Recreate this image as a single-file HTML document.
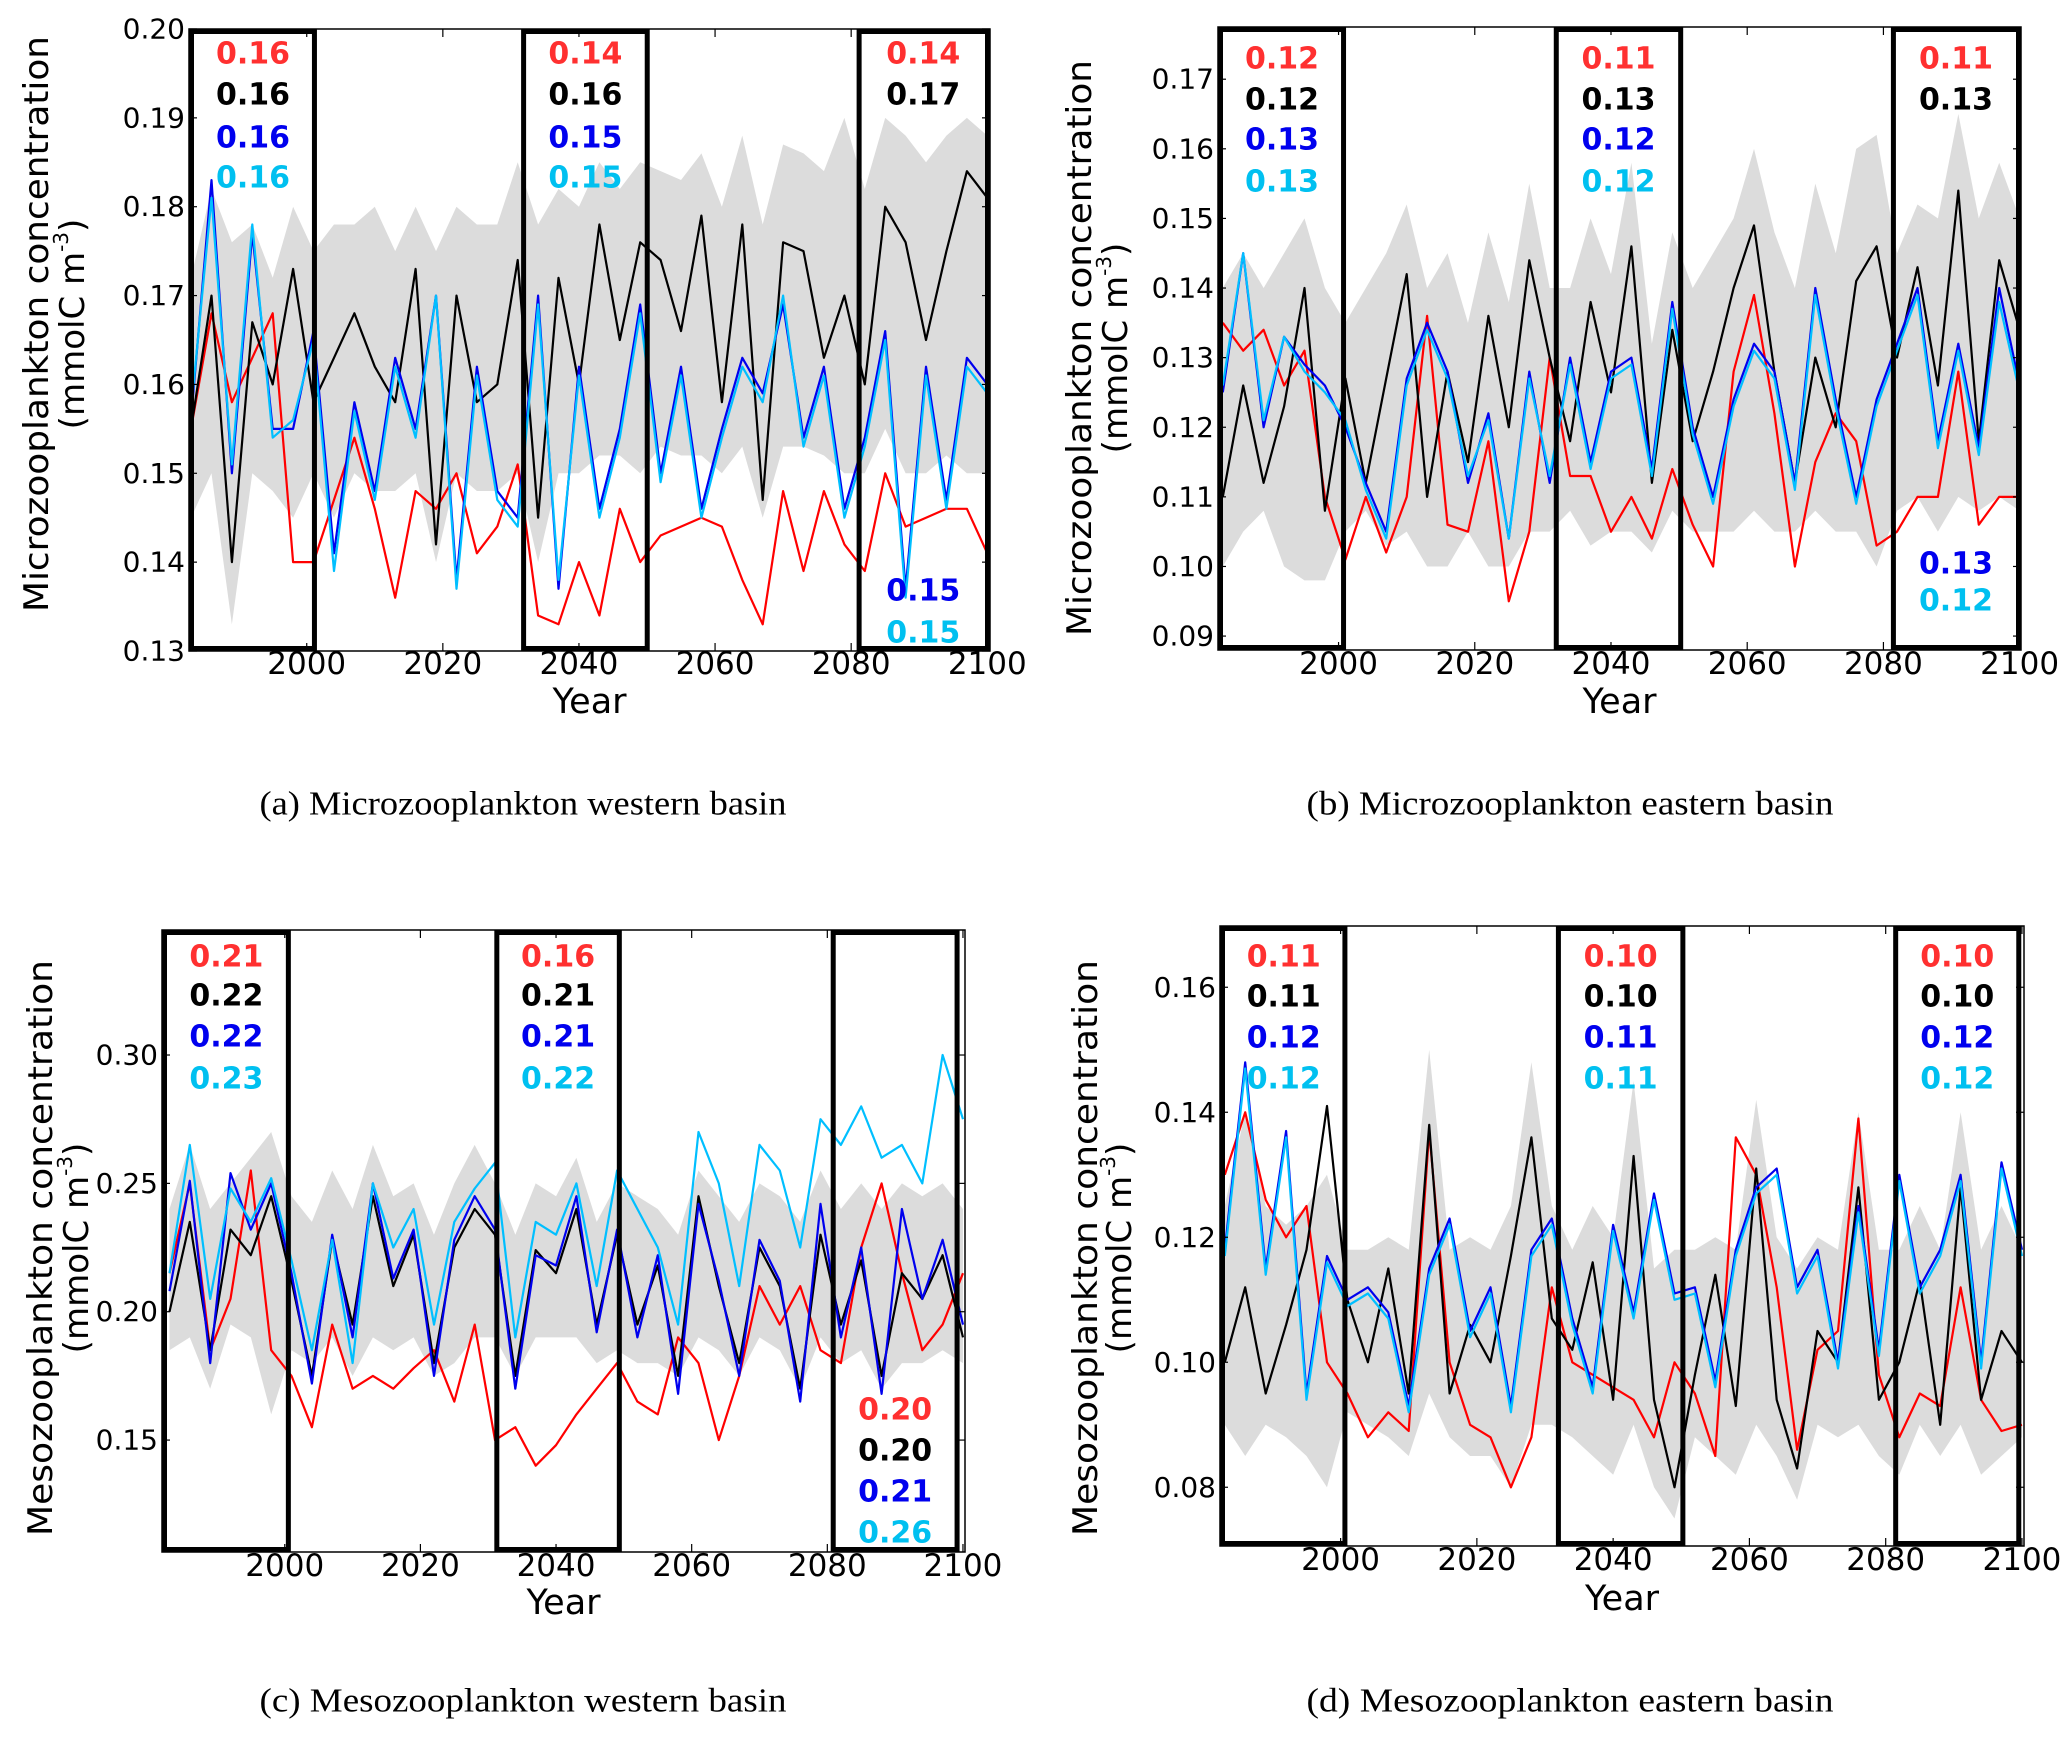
<!DOCTYPE html>
<html><head><meta charset="utf-8"><style>
html,body{margin:0;padding:0;background:#fff}
svg{display:block}
text{font-family:"DejaVu Sans","Liberation Sans",sans-serif}
</style></head><body>
<svg id="fig" width="2067" height="1740" viewBox="0 0 2067 1740" xmlns="http://www.w3.org/2000/svg"></svg>
<script>
// years: 1983..2100 step 3 (40 points)
const years = Array.from({length:40},(_,i)=>1983+3*i);

const redA=[0.155,0.168,0.158,0.163,0.168,0.140,0.140,0.147,0.154,0.146,0.136,0.148,0.146,0.150,0.141,0.144,0.151,0.134,0.133,0.140,0.134,0.146,0.140,0.143,0.144,0.145,0.144,0.138,0.133,0.148,0.139,0.148,0.142,0.139,0.150,0.144,0.145,0.146,0.146,0.141];
const blackA=[0.155,0.170,0.140,0.167,0.160,0.173,0.158,0.163,0.168,0.162,0.158,0.173,0.142,0.170,0.158,0.160,0.174,0.145,0.172,0.160,0.178,0.165,0.176,0.174,0.166,0.179,0.158,0.178,0.147,0.176,0.175,0.163,0.170,0.160,0.180,0.176,0.165,0.175,0.184,0.181];
const blueA=[0.156,0.183,0.150,0.177,0.155,0.155,0.166,0.141,0.158,0.148,0.163,0.155,0.170,0.138,0.162,0.148,0.145,0.170,0.137,0.162,0.146,0.155,0.169,0.150,0.162,0.146,0.155,0.163,0.159,0.169,0.154,0.162,0.146,0.154,0.166,0.137,0.162,0.147,0.163,0.160];
const cyanA=[0.157,0.181,0.151,0.178,0.154,0.156,0.165,0.139,0.157,0.147,0.162,0.154,0.170,0.137,0.161,0.147,0.144,0.169,0.138,0.161,0.145,0.154,0.168,0.149,0.161,0.145,0.154,0.162,0.158,0.170,0.153,0.161,0.145,0.153,0.165,0.136,0.161,0.146,0.162,0.159];
const loA=[0.145,0.150,0.133,0.150,0.148,0.145,0.150,0.145,0.150,0.148,0.148,0.150,0.140,0.150,0.148,0.148,0.150,0.140,0.150,0.150,0.152,0.152,0.150,0.153,0.152,0.152,0.150,0.153,0.145,0.153,0.153,0.152,0.150,0.150,0.155,0.150,0.150,0.152,0.150,0.150];
const hiA=[0.172,0.182,0.176,0.178,0.172,0.180,0.175,0.178,0.178,0.180,0.175,0.180,0.175,0.180,0.178,0.178,0.185,0.178,0.182,0.180,0.185,0.182,0.185,0.184,0.183,0.186,0.180,0.188,0.178,0.187,0.186,0.184,0.190,0.182,0.190,0.188,0.185,0.188,0.190,0.188];

const redB=[0.135,0.131,0.134,0.126,0.131,0.110,0.101,0.110,0.102,0.110,0.136,0.106,0.105,0.118,0.095,0.105,0.130,0.113,0.113,0.105,0.110,0.104,0.114,0.106,0.100,0.128,0.139,0.122,0.100,0.115,0.122,0.118,0.103,0.105,0.110,0.110,0.128,0.106,0.110,0.110];
const blackB=[0.110,0.126,0.112,0.123,0.140,0.108,0.127,0.112,0.127,0.142,0.110,0.128,0.115,0.136,0.120,0.144,0.130,0.118,0.138,0.125,0.146,0.112,0.134,0.118,0.128,0.140,0.149,0.128,0.112,0.130,0.120,0.141,0.146,0.130,0.143,0.126,0.154,0.118,0.144,0.134];
const blueB=[0.125,0.145,0.120,0.133,0.129,0.126,0.120,0.112,0.105,0.127,0.135,0.128,0.112,0.122,0.104,0.128,0.112,0.130,0.115,0.128,0.130,0.114,0.138,0.120,0.110,0.124,0.132,0.128,0.112,0.140,0.124,0.110,0.124,0.132,0.140,0.118,0.132,0.117,0.140,0.126];
const cyanB=[0.126,0.145,0.121,0.133,0.128,0.125,0.121,0.111,0.104,0.126,0.134,0.127,0.113,0.121,0.104,0.127,0.113,0.129,0.114,0.127,0.129,0.113,0.137,0.119,0.109,0.123,0.131,0.127,0.111,0.139,0.123,0.109,0.123,0.131,0.139,0.117,0.131,0.116,0.138,0.125];
const loB=[0.100,0.105,0.108,0.100,0.098,0.098,0.105,0.108,0.103,0.105,0.100,0.100,0.105,0.100,0.100,0.105,0.105,0.108,0.103,0.105,0.105,0.102,0.108,0.105,0.105,0.105,0.108,0.105,0.105,0.108,0.105,0.105,0.100,0.108,0.110,0.105,0.110,0.108,0.110,0.108];
const hiB=[0.140,0.145,0.140,0.145,0.150,0.140,0.135,0.140,0.145,0.152,0.140,0.145,0.135,0.148,0.138,0.155,0.140,0.140,0.150,0.142,0.158,0.132,0.148,0.140,0.145,0.150,0.160,0.148,0.140,0.155,0.145,0.160,0.162,0.145,0.152,0.150,0.165,0.150,0.158,0.150];

const redC=[0.215,0.250,0.185,0.205,0.255,0.185,0.175,0.155,0.195,0.170,0.175,0.170,0.178,0.185,0.165,0.195,0.150,0.155,0.140,0.148,0.160,0.170,0.180,0.165,0.160,0.190,0.180,0.150,0.175,0.210,0.195,0.210,0.185,0.180,0.225,0.250,0.215,0.185,0.195,0.215];
const blackC=[0.200,0.235,0.185,0.232,0.222,0.245,0.212,0.175,0.228,0.195,0.245,0.210,0.230,0.180,0.225,0.240,0.230,0.175,0.224,0.215,0.240,0.195,0.230,0.195,0.218,0.175,0.245,0.210,0.180,0.225,0.210,0.170,0.230,0.195,0.220,0.175,0.215,0.205,0.222,0.190];
const blueC=[0.208,0.251,0.180,0.254,0.232,0.250,0.215,0.172,0.230,0.190,0.250,0.213,0.232,0.175,0.228,0.245,0.232,0.170,0.222,0.218,0.245,0.192,0.232,0.190,0.222,0.168,0.242,0.212,0.175,0.228,0.212,0.165,0.242,0.190,0.225,0.168,0.240,0.205,0.228,0.195];
const cyanC=[0.215,0.265,0.205,0.248,0.235,0.252,0.220,0.185,0.228,0.180,0.250,0.225,0.240,0.195,0.235,0.248,0.258,0.190,0.235,0.230,0.250,0.210,0.255,0.240,0.225,0.195,0.270,0.250,0.210,0.265,0.255,0.225,0.275,0.265,0.280,0.260,0.265,0.250,0.300,0.275];
const loC=[0.185,0.190,0.170,0.195,0.190,0.160,0.185,0.180,0.190,0.175,0.190,0.185,0.190,0.175,0.180,0.190,0.190,0.175,0.190,0.190,0.190,0.180,0.185,0.180,0.180,0.175,0.190,0.185,0.175,0.190,0.185,0.170,0.190,0.180,0.185,0.170,0.180,0.180,0.185,0.180];
const hiC=[0.240,0.265,0.240,0.250,0.260,0.270,0.245,0.235,0.255,0.240,0.265,0.245,0.250,0.230,0.250,0.265,0.250,0.230,0.250,0.245,0.260,0.235,0.250,0.245,0.240,0.230,0.255,0.245,0.235,0.250,0.245,0.235,0.255,0.240,0.250,0.240,0.250,0.245,0.250,0.240];

const redD=[0.130,0.140,0.126,0.120,0.125,0.100,0.095,0.088,0.092,0.089,0.137,0.100,0.090,0.088,0.080,0.088,0.112,0.100,0.098,0.096,0.094,0.088,0.100,0.095,0.085,0.136,0.130,0.112,0.086,0.102,0.105,0.139,0.098,0.088,0.095,0.093,0.112,0.094,0.089,0.090];
const blackD=[0.100,0.112,0.095,0.106,0.118,0.141,0.110,0.100,0.115,0.095,0.138,0.095,0.106,0.100,0.117,0.136,0.107,0.102,0.116,0.094,0.133,0.094,0.080,0.098,0.114,0.093,0.131,0.094,0.083,0.105,0.100,0.128,0.094,0.100,0.113,0.090,0.128,0.094,0.105,0.100];
const blueD=[0.118,0.148,0.115,0.137,0.095,0.117,0.110,0.112,0.108,0.093,0.115,0.123,0.105,0.112,0.093,0.118,0.123,0.107,0.096,0.122,0.108,0.127,0.111,0.112,0.097,0.118,0.128,0.131,0.112,0.118,0.100,0.125,0.102,0.130,0.112,0.118,0.130,0.100,0.132,0.118];
const cyanD=[0.117,0.147,0.114,0.136,0.094,0.116,0.109,0.111,0.107,0.092,0.114,0.122,0.104,0.111,0.092,0.117,0.122,0.106,0.095,0.121,0.107,0.126,0.110,0.111,0.096,0.117,0.127,0.130,0.111,0.117,0.099,0.124,0.101,0.129,0.111,0.117,0.129,0.099,0.131,0.117];
const loD=[0.090,0.085,0.090,0.088,0.085,0.080,0.092,0.090,0.088,0.085,0.095,0.088,0.085,0.085,0.080,0.090,0.090,0.088,0.085,0.082,0.090,0.080,0.075,0.088,0.085,0.082,0.090,0.085,0.078,0.090,0.088,0.090,0.085,0.082,0.090,0.085,0.090,0.082,0.085,0.088];
const hiD=[0.125,0.140,0.125,0.122,0.125,0.130,0.118,0.118,0.120,0.118,0.150,0.118,0.120,0.118,0.125,0.148,0.125,0.118,0.125,0.120,0.145,0.115,0.118,0.118,0.120,0.118,0.142,0.120,0.115,0.120,0.118,0.140,0.118,0.118,0.125,0.118,0.140,0.118,0.125,0.118];

const ticksA=["0.13","0.14","0.15","0.16","0.17","0.18","0.19","0.20"];
const ticksB=["0.09","0.10","0.11","0.12","0.13","0.14","0.15","0.16","0.17"];
const ticksC=["0.15","0.20","0.25","0.30"];
const ticksD=["0.08","0.10","0.12","0.14","0.16"];
const xTicks=[2000,2020,2040,2060,2080,2100];

const valsA=[["0.16","0.16","0.16","0.16"],["0.14","0.16","0.15","0.15"],["0.14","0.17","0.15","0.15"]];
const valsB=[["0.12","0.12","0.13","0.13"],["0.11","0.13","0.12","0.12"],["0.11","0.13","0.13","0.12"]];
const valsC=[["0.21","0.22","0.22","0.23"],["0.16","0.21","0.21","0.22"],["0.20","0.20","0.21","0.26"]];
const valsD=[["0.11","0.11","0.12","0.12"],["0.10","0.10","0.11","0.11"],["0.10","0.10","0.12","0.12"]];

const NS="http://www.w3.org/2000/svg";
const svg=document.getElementById('fig');
const COLORS={red:"#ff0000",black:"#000000",blue:"#0000ee",cyan:"#00bfff"};
const LABEL_COLORS=["#ff3030","#000000","#0000ee","#00c0f0"];
function mk(tag,attrs,parent){const e=document.createElementNS(NS,tag);for(const k in attrs)e.setAttribute(k,attrs[k]);(parent||svg).appendChild(e);return e;}

const panels=[
 {id:"a",x0:189,x1:990,y0:29,y1:651,xmin:1982.7,xmax:2100.4,ymin:0.13,ymax:0.20,ticks:ticksA,
  red:redA,black:blackA,blue:blueA,cyan:cyanA,lo:loA,hi:hiA,vals:valsA,
  boxes:[[1982.7,2001.5],[2031.5,2050.4],[2080.8,2100.4]],rows:[54,95,138,178],split:[591,633],
  title:"Microzooplankton concentration",tx:37,tx2:73,ty:324,tlen:576,xl:664,yl:702,cap:"(a) Microzooplankton western basin",cx:523,cy:804},
 {id:"b",x0:1218,x1:2021,y0:27,y1:650,xmin:1982.3,xmax:2100.2,ymin:0.088,ymax:0.1775,ticks:ticksB,
  red:redB,black:blackB,blue:blueB,cyan:cyanB,lo:loB,hi:hiB,vals:valsB,
  boxes:[[1982.3,2001.1],[2031.6,2050.6],[2081.1,2100.2]],rows:[59,100,140,182],split:[564,601],
  title:"Microzooplankton concentration",tx:1080,tx2:1116,ty:348,tlen:576,xl:664,yl:702,cap:"(b) Microzooplankton eastern basin",cx:1570,cy:804},
 {id:"c",x0:162,x1:965,y0:930,y1:1552,xmin:1981.9,xmax:2100.3,ymin:0.1064,ymax:0.3487,ticks:ticksC,
  red:redC,black:blackC,blue:blueC,cyan:cyanC,lo:loC,hi:hiC,vals:valsC,
  boxes:[[1981.9,2000.9],[2030.9,2049.7],[2080.5,2099.5]],rows:[957,996,1037,1079],split4:[1410,1451,1492,1533],
  title:"Mesozooplankton concentration",tx:41,tx2:77,ty:1248,tlen:576,xl:1566,yl:1603,cap:"(c) Mesozooplankton western basin",cx:523,cy:1701},
 {id:"d",x0:1220,x1:2024,y0:926,y1:1546,xmin:1982.3,xmax:2100.3,ymin:0.0706,ymax:0.1698,ticks:ticksD,
  red:redD,black:blackD,blue:blueD,cyan:cyanD,lo:loD,hi:hiD,vals:valsD,
  boxes:[[1982.3,2001.0],[2031.6,2050.6],[2081.1,2099.9]],rows:[957,997,1038,1079],
  title:"Mesozooplankton concentration",tx:1086,tx2:1120,ty:1248,tlen:576,xl:1560,yl:1599,cap:"(d) Mesozooplankton eastern basin",cx:1570,cy:1701}
];

panels.forEach(p=>{
  const X=y=>p.x0+(y-p.xmin)/(p.xmax-p.xmin)*(p.x1-p.x0);
  const Y=v=>p.y1-(v-p.ymin)/(p.ymax-p.ymin)*(p.y1-p.y0);
  const g=mk('g',{});
  
  
  const defs=mk('defs',{},g);
  const cp=mk('clipPath',{id:'clip'+p.id},defs);
  mk('rect',{x:p.x0,y:p.y0,width:p.x1-p.x0,height:p.y1-p.y0},cp);
  const plot=mk('g',{'clip-path':'url(#clip'+p.id+')'},g);
  let pts=years.map((yr,i)=>X(yr)+','+Y(p.hi[i]));
  for(let i=years.length-1;i>=0;i--)pts.push(X(years[i])+','+Y(p.lo[i]));
  const band=mk('polygon',{points:pts.join(' '),fill:'#dcdcdc',stroke:'none'},plot);
  
  
  ['red','black','blue','cyan'].forEach(s=>{
    const d=years.map((yr,i)=>(i?'L':'M')+X(yr).toFixed(1)+','+Y(p[s][i]).toFixed(1)).join(' ');
    const l=mk('path',{d:d,fill:'none',stroke:COLORS[s],'stroke-width':2.2,'stroke-linejoin':'round'},plot);
    
    
  });
  const fr=mk('rect',{x:p.x0,y:p.y0,width:p.x1-p.x0,height:p.y1-p.y0,fill:'none',stroke:'#000','stroke-width':1.5},g);
  
  
  p.ticks.forEach(t=>{
    const v=parseFloat(t),yy=Y(v);
    mk('line',{x1:p.x0,x2:p.x0+8,y1:yy,y2:yy,stroke:'#000','stroke-width':1.2},g);
    mk('line',{x1:p.x1,x2:p.x1-8,y1:yy,y2:yy,stroke:'#000','stroke-width':1.2},g);
    const tl=mk('text',{x:p.x0-4,y:yy,'font-size':28,'text-anchor':'end','dominant-baseline':'central'},g);
    tl.textContent=t;
    
    
  });
  xTicks.forEach(t=>{
    const xx=X(t);
    mk('line',{x1:xx,x2:xx,y1:p.y1,y2:p.y1-8,stroke:'#000','stroke-width':1.2},g);
    mk('line',{x1:xx,x2:xx,y1:p.y0,y2:p.y0+8,stroke:'#000','stroke-width':1.2},g);
    const tl=mk('text',{x:xx,y:p.xl,'font-size':31,'text-anchor':'middle','dominant-baseline':'central'},g);
    tl.textContent=String(t);
    
    
  });
  p.boxes.forEach((b,bi)=>{
    const bx=mk('rect',{x:X(b[0])+2.5,y:p.y0+2.5,width:X(b[1])-X(b[0])-5,height:p.y1-p.y0-5,fill:'none',stroke:'#000','stroke-width':5},g);
    
    
    const cxm=(X(b[0])+X(b[1]))/2;
    const vals=p.vals[bi];
    let ys=p.rows.slice();
    if(bi===2&&p.split){ys=[p.rows[0],p.rows[1],p.split[0],p.split[1]];}
    if(bi===2&&p.split4){ys=p.split4;}
    [0,1,2,3].forEach(k=>{
      const vt=mk('text',{x:cxm,y:ys[k],'font-size':30,'font-weight':'bold','text-anchor':'middle','dominant-baseline':'central',fill:LABEL_COLORS[k]},g);
      vt.textContent=vals[k];
      
      
    });
  });
  const xt=mk('text',{x:(p.x0+p.x1)/2,y:p.yl,'font-size':35,'text-anchor':'middle','dominant-baseline':'central'},g);
  xt.textContent='Year';
  
  
  const yt=mk('text',{x:0,y:0,'font-size':34,'text-anchor':'middle','dominant-baseline':'central',transform:'translate('+p.tx+','+p.ty+') rotate(-90)',textLength:p.tlen,lengthAdjust:'spacingAndGlyphs'},g);
  yt.textContent=p.title;
  
  
  const yt2=mk('text',{x:0,y:0,'font-size':34,'text-anchor':'middle','dominant-baseline':'central',transform:'translate('+p.tx2+','+p.ty+') rotate(-90)'},g);
  yt2.appendChild(document.createTextNode('(mmolC m'));
  const sup=mk('tspan',{'font-size':20,dy:-12},yt2);
  sup.textContent='-3';
  const cl=mk('tspan',{dy:12},yt2);
  cl.textContent=')';
  
  
  const cap=mk('text',{x:p.cx,y:p.cy,'font-size':34,'text-anchor':'middle','dominant-baseline':'central',style:'font-family:"Liberation Serif",serif',textLength:527,lengthAdjust:'spacingAndGlyphs'},g);
  cap.textContent=p.cap;
  
  
});
</script>
</body></html>
